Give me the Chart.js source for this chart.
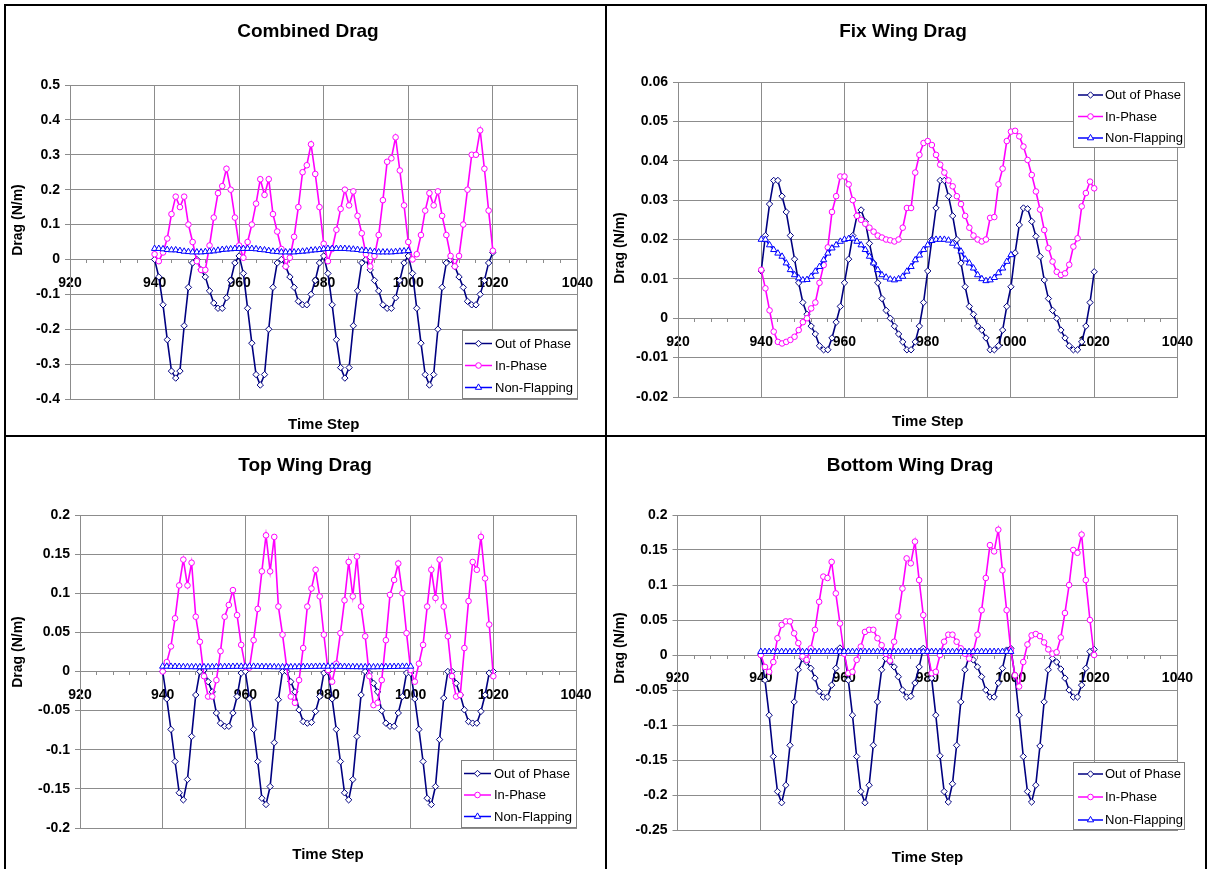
<!DOCTYPE html>
<html><head><meta charset="utf-8">
<script src="https://cdn.jsdelivr.net/npm/chart.js@4.4.1/dist/chart.umd.min.js"></script>
<style>
html,body{margin:0;padding:0;background:#fff;}
#page{position:relative;width:1209px;height:869px;overflow:hidden;background:#fff;}
.ln{position:absolute;background:#000;}
.pn{position:absolute;}
canvas{display:block;}
</style></head><body>
<div id="page">
 <div class="pn" style="left:6px;top:6px;"><canvas id="c1" width="599" height="429"></canvas></div>
 <div class="pn" style="left:607px;top:6px;"><canvas id="c2" width="598" height="429"></canvas></div>
 <div class="pn" style="left:6px;top:437px;"><canvas id="c3" width="599" height="432"></canvas></div>
 <div class="pn" style="left:607px;top:437px;"><canvas id="c4" width="598" height="432"></canvas></div>
 <div class="ln" style="left:4px;top:4px;width:1203px;height:2px"></div>
 <div class="ln" style="left:4px;top:4px;width:2px;height:865px"></div>
 <div class="ln" style="left:1205px;top:4px;width:2px;height:865px"></div>
 <div class="ln" style="left:605px;top:4px;width:2px;height:865px"></div>
 <div class="ln" style="left:4px;top:435px;width:1203px;height:2px"></div>
</div>
<script>
// ---------- data ----------
const timeSteps = [940,941,942,943,944,945,946,947,948,949,950,951,952,953,954,955,956,957,958,959,960,961,962,963,964,965,966,967,968,969,970,971,972,973,974,975,976,977,978,979,980,981,982,983,984,985,986,987,988,989,990,991,992,993,994,995,996,997,998,999,1000,1001,1002,1003,1004,1005,1006,1007,1008,1009,1010,1011,1012,1013,1014,1015,1016,1017,1018,1019,1020];
const xTickLabels = [920,940,960,980,1000,1020,1040];
const seriesNames = ['Out of Phase','In-Phase','Non-Flapping'];

// Combined Drag
const combinedOutOfPhase = [0.0,-0.05,-0.13,-0.23,-0.32,-0.34,-0.32,-0.19,-0.08,-0.01,
 0.0,-0.03,-0.05,-0.09,-0.125,-0.14,-0.14,-0.11,-0.06,-0.01,
 0.01,-0.04,-0.14,-0.24,-0.33,-0.36,-0.33,-0.2,-0.08,-0.01,
 0.0,-0.02,-0.05,-0.08,-0.12,-0.13,-0.13,-0.1,-0.06,-0.01,
 0.01,-0.04,-0.13,-0.23,-0.31,-0.34,-0.31,-0.19,-0.09,-0.01,
 0.0,-0.03,-0.06,-0.09,-0.13,-0.14,-0.14,-0.11,-0.06,-0.01,
 0.01,-0.04,-0.14,-0.24,-0.33,-0.36,-0.33,-0.2,-0.08,-0.01,
 0.0,-0.02,-0.05,-0.08,-0.12,-0.13,-0.13,-0.1,-0.06,-0.01,
 0.02];
const combinedInPhase = [0.015,-0.005,0.02,0.06,0.13,0.18,0.15,0.18,0.1,0.05,
 -0.005,-0.03,-0.03,0.04,0.12,0.19,0.21,0.26,0.2,0.12,
 0.04,0.005,0.05,0.1,0.16,0.23,0.185,0.23,0.13,0.08,
 0.03,-0.02,0.005,0.065,0.15,0.25,0.27,0.33,0.245,0.15,
 0.045,-0.005,0.03,0.085,0.145,0.2,0.155,0.195,0.125,0.075,
 0.015,-0.02,0.01,0.07,0.17,0.28,0.29,0.35,0.255,0.155,
 0.05,0.0,0.015,0.07,0.14,0.19,0.155,0.195,0.125,0.07,
 0.01,-0.02,0.01,0.1,0.2,0.3,0.3,0.37,0.26,0.14,
 0.025];
const combinedNonFlapping = [0.031,0.031,0.03,0.028,0.027,0.027,0.025,0.023,0.022,0.021,
 0.021,0.021,0.022,0.023,0.024,0.026,0.028,0.029,0.03,0.031,
 0.031,0.031,0.031,0.031,0.03,0.028,0.027,0.025,0.023,0.022,
 0.021,0.021,0.021,0.021,0.022,0.023,0.024,0.026,0.027,0.028,
 0.03,0.031,0.031,0.031,0.031,0.031,0.03,0.029,0.028,0.026,
 0.025,0.024,0.022,0.021,0.021,0.021,0.021,0.022,0.023,0.024,
 0.025];

// Fix Wing Drag
const fixOutOfPhase = [0.012,0.021,0.029,0.035,0.035,0.031,0.027,0.021,0.015,0.009,
 0.004,0.001,-0.002,-0.004,-0.007,-0.008,-0.008,-0.005,-0.001,0.003,
 0.009,0.015,0.021,0.026,0.0275,0.0245,0.019,0.014,0.009,0.005,
 0.002,0.0,-0.002,-0.004,-0.006,-0.008,-0.008,-0.006,-0.002,0.004,
 0.012,0.02,0.028,0.035,0.035,0.031,0.026,0.02,0.014,0.008,
 0.003,0.001,-0.002,-0.003,-0.005,-0.008,-0.008,-0.007,-0.003,0.003,
 0.008,0.0166,0.0237,0.028,0.0278,0.0246,0.0208,0.0157,0.0097,0.005,
 0.002,0.0,-0.003,-0.005,-0.007,-0.008,-0.008,-0.006,-0.002,0.004,
 0.0118];
const fixInPhase = [0.0123,0.0076,0.002,-0.0034,-0.006,-0.0064,-0.006,-0.0055,-0.0047,-0.003,
 -0.001,0.0,0.0025,0.004,0.009,0.0135,0.018,0.027,0.031,0.036,
 0.036,0.034,0.03,0.026,0.025,0.024,0.023,0.022,0.021,0.0205,
 0.02,0.0198,0.0195,0.02,0.023,0.028,0.028,0.037,0.0415,0.0445,
 0.045,0.044,0.0415,0.039,0.037,0.035,0.0335,0.031,0.029,0.026,
 0.023,0.021,0.02,0.0195,0.02,0.0255,0.0257,0.034,0.038,0.045,
 0.0474,0.0476,0.0462,0.0436,0.0402,0.0364,0.0322,0.0276,0.0224,0.0178,
 0.0144,0.0118,0.011,0.0114,0.0136,0.0182,0.0203,0.0284,0.0318,0.0347,
 0.033];
const fixNonFlapping = [0.02,0.02,0.0186,0.0174,0.0165,0.0157,0.014,0.0123,0.011,0.0102,
 0.0097,0.0098,0.0106,0.0119,0.0131,0.0148,0.0165,0.0178,0.0186,0.0195,
 0.02,0.0202,0.0203,0.0195,0.0186,0.0174,0.0157,0.014,0.0123,0.011,
 0.0104,0.0099,0.0097,0.01,0.0106,0.0119,0.0131,0.0148,0.016,0.0174,
 0.0186,0.0197,0.02,0.02,0.02,0.0198,0.019,0.0183,0.017,0.015,
 0.014,0.0127,0.011,0.01,0.0095,0.0097,0.0103,0.0115,0.0127,0.0144,
 0.0161];

// Top Wing Drag
const topOutOfPhase = [0.0,-0.035,-0.074,-0.115,-0.155,-0.164,-0.138,-0.083,-0.03,0.0,
 0.002,-0.013,-0.026,-0.053,-0.066,-0.07,-0.07,-0.053,-0.032,-0.002,
 0.0,-0.035,-0.074,-0.115,-0.162,-0.17,-0.147,-0.091,-0.036,0.0,
 0.0,-0.013,-0.026,-0.049,-0.064,-0.066,-0.065,-0.051,-0.032,-0.002,
 0.0,-0.035,-0.074,-0.115,-0.155,-0.164,-0.138,-0.083,-0.03,0.0,
 -0.002,-0.015,-0.026,-0.05,-0.066,-0.07,-0.07,-0.053,-0.032,-0.002,
 -0.002,-0.035,-0.074,-0.115,-0.162,-0.17,-0.147,-0.087,-0.034,0.0,
 0.0,-0.015,-0.03,-0.049,-0.064,-0.066,-0.066,-0.051,-0.03,-0.002,
 0.0];
const topInPhase = [0.0,0.012,0.032,0.068,0.11,0.143,0.11,0.139,0.07,0.038,
 -0.006,-0.032,-0.032,-0.011,0.026,0.07,0.085,0.104,0.072,0.034,
 0.006,0.005,0.04,0.08,0.128,0.174,0.128,0.172,0.083,0.047,
 0.006,-0.032,-0.04,-0.011,0.03,0.083,0.106,0.13,0.096,0.047,
 0.002,-0.013,0.01,0.049,0.091,0.14,0.096,0.147,0.083,0.045,
 -0.006,-0.043,-0.04,-0.011,0.04,0.098,0.117,0.138,0.1,0.049,
 0.002,-0.013,0.01,0.034,0.083,0.13,0.094,0.143,0.083,0.045,
 -0.006,-0.032,-0.03,0.03,0.09,0.14,0.13,0.172,0.119,0.06,
 -0.006];
const topNonFlapping = [0.0065,0.0065,0.0064,0.0063,0.0062,0.006,0.006,0.0059,0.0058,0.0058,
 0.0058,0.0058,0.0059,0.006,0.006,0.0061,0.0062,0.0063,0.0064,0.0064,
 0.0065,0.0065,0.0064,0.0063,0.0062,0.006,0.006,0.0059,0.0058,0.0058,
 0.0058,0.0058,0.0059,0.006,0.006,0.0061,0.0062,0.0063,0.0064,0.0064,
 0.0065,0.0065,0.0064,0.0063,0.0062,0.006,0.006,0.0059,0.0058,0.0058,
 0.0058,0.0058,0.0059,0.006,0.006,0.0061,0.0062,0.0063,0.0064,0.0064,
 0.0065];

// Bottom Wing Drag
const bottomOutOfPhase = [0.0,-0.036,-0.086,-0.145,-0.195,-0.211,-0.186,-0.129,-0.067,-0.021,
 -0.005,-0.01,-0.019,-0.033,-0.052,-0.06,-0.06,-0.043,-0.019,0.01,
 0.005,-0.036,-0.086,-0.145,-0.195,-0.211,-0.186,-0.129,-0.067,-0.021,
 -0.005,-0.01,-0.017,-0.031,-0.05,-0.06,-0.059,-0.04,-0.017,0.0095,
 0.005,-0.033,-0.086,-0.144,-0.195,-0.21,-0.184,-0.129,-0.067,-0.021,
 -0.002,-0.007,-0.017,-0.031,-0.05,-0.06,-0.06,-0.04,-0.019,0.007,
 0.0095,-0.03,-0.086,-0.145,-0.195,-0.21,-0.186,-0.13,-0.067,-0.021,
 -0.005,-0.01,-0.02,-0.033,-0.05,-0.06,-0.06,-0.043,-0.019,0.005,
 0.008];
const bottomInPhase = [0.0,-0.017,-0.024,-0.01,0.024,0.043,0.048,0.048,0.031,0.017,
 -0.002,-0.007,0.0095,0.036,0.076,0.112,0.11,0.133,0.088,0.045,
 0.002,-0.026,-0.024,-0.007,0.012,0.033,0.036,0.036,0.024,0.014,
 0.002,-0.008,0.019,0.055,0.095,0.138,0.131,0.162,0.107,0.057,
 0.005,-0.026,-0.024,0.0,0.019,0.029,0.029,0.019,0.0095,0.002,
 -0.005,0.005,0.029,0.064,0.11,0.157,0.148,0.179,0.121,0.064,
 0.007,-0.029,-0.045,-0.01,0.015,0.028,0.03,0.027,0.018,0.008,
 0.002,0.004,0.025,0.06,0.1,0.15,0.146,0.172,0.107,0.05,
 0.0];
const bottomNonFlapping = [0.0048,0.0048,0.0048,0.0047,0.0047,0.0047,0.0047,0.0047,0.0047,0.0047,
 0.0047,0.0047,0.0047,0.0047,0.0047,0.0047,0.0048,0.0048,0.0048,0.0048,
 0.0048,0.0048,0.0048,0.0047,0.0047,0.0047,0.0047,0.0047,0.0047,0.0047,
 0.0047,0.0047,0.0047,0.0047,0.0047,0.0047,0.0048,0.0048,0.0048,0.0048,
 0.0048,0.0048,0.0048,0.0047,0.0047,0.0047,0.0047,0.0047,0.0047,0.0047,
 0.0047,0.0047,0.0047,0.0047,0.0047,0.0047,0.0048,0.0048,0.0048,0.0048,
 0.0048];

const yTicksCombined = [-0.4,-0.3,-0.2,-0.1,0,0.1,0.2,0.3,0.4,0.5];
const yTicksFix = [-0.02,-0.01,0,0.01,0.02,0.03,0.04,0.05,0.06];
const yTicksTop = [-0.2,-0.15,-0.1,-0.05,0,0.05,0.1,0.15,0.2];
const yTicksBottom = [-0.25,-0.2,-0.15,-0.1,-0.05,0,0.05,0.1,0.15,0.2];

// ---------- styling ----------
const FONT = "'Liberation Sans', Arial, Helvetica, sans-serif";
const GRID = '#8c8c8c';
const COL_OP = '#000080', COL_IP = '#ff00ff', COL_NF = '#0000ff';

function pts(values){ return values.map((v,i)=>({x: timeSteps[i], y: v})); }

function drawMarker(ctx, style, x, y, r){
  ctx.beginPath();
  if (style === 'rectRot'){ ctx.moveTo(x, y-r); ctx.lineTo(x+r, y); ctx.lineTo(x, y+r); ctx.lineTo(x-r, y); ctx.closePath(); }
  else if (style === 'triangle'){ ctx.moveTo(x, y-r); ctx.lineTo(x+r*0.87, y+r*0.5); ctx.lineTo(x-r*0.87, y+r*0.5); ctx.closePath(); }
  else { ctx.arc(x, y, r, 0, Math.PI*2); }
  ctx.fill(); ctx.stroke();
}

// draws chart title, rotated y-axis title, and the boxed legend
const decor = {
  id: 'decor',
  afterDraw(chart, args, o){
    const ctx = chart.ctx, b = o.box;
    ctx.save();
    ctx.fillStyle = '#000'; ctx.textAlign = 'center'; ctx.textBaseline = 'middle';
    ctx.font = 'bold 19px ' + FONT;
    ctx.fillText(o.title, o.titleX, o.titleY);
    ctx.save();
    ctx.translate(o.yTitleX, o.yTitleY); ctx.rotate(-Math.PI/2);
    ctx.font = 'bold 14px ' + FONT;
    ctx.fillText('Drag (N/m)', 0, 0);
    ctx.restore();

    ctx.fillStyle = '#fff'; ctx.fillRect(b.x, b.y, b.w, b.h);
    ctx.strokeStyle = '#808080'; ctx.lineWidth = 1; ctx.strokeRect(b.x+0.5, b.y+0.5, b.w-1, b.h-1);
    chart.data.datasets.forEach((ds, i) => {
      const y = b.y + o.rows[i];
      ctx.strokeStyle = ds.borderColor; ctx.lineWidth = 1.5;
      ctx.beginPath(); ctx.moveTo(b.x + o.line[0], y); ctx.lineTo(b.x + o.line[1], y); ctx.stroke();
      ctx.fillStyle = '#fff'; ctx.lineWidth = 1;
      drawMarker(ctx, ds.pointStyle, b.x + (o.line[0]+o.line[1])/2, y, ds.pointRadius);
      ctx.fillStyle = '#000'; ctx.font = '13px ' + FONT; ctx.textBaseline = 'middle'; ctx.textAlign = 'left';
      ctx.fillText(ds.label, b.x + o.text, y + 0.5);
    });
    ctx.restore();
  }
};

function makeChart(id, s){
  const xTitleLH = 15*1.2;
  const ds = (label, vals, color, style, r, order) => ({
    label, data: pts(vals), borderColor: color, backgroundColor: color, borderWidth: 1.6,
    pointStyle: style, pointRadius: r, pointBackgroundColor: '#fff', pointBorderColor: color,
    pointBorderWidth: 1, tension: 0, xAxisID: 'x', yAxisID: 'y', order
  });
  new Chart(document.getElementById(id), {
    type: 'line',
    data: { datasets: [
      ds(seriesNames[0], s.op, COL_OP, 'rectRot', 3.2, 2),
      ds(seriesNames[1], s.ip, COL_IP, 'circle', 2.8, 1),
      ds(seriesNames[2], s.nf, COL_NF, 'triangle', 3.6, 0)
    ]},
    options: {
      responsive: false, animation: false, devicePixelRatio: 1,
      layout: { padding: { left: 0, top: s.area.T, bottom: 0, right: s.W - s.area.R } },
      plugins: {
        legend: { display: false }, tooltip: { enabled: false }, title: { display: false },
        decor: s.decor
      },
      scales: {
        x: { type: 'linear', position: 'bottom', min: 920, max: 1040,
          afterBuildTicks: sc => { sc.ticks = xTickLabels.map(v => ({value: v})); },
          afterFit: sc => { sc.height = s.H - s.area.B; },
          grid: { color: GRID, drawTicks: false, lineWidth: 1 },
          border: { color: GRID },
          ticks: { display: false },
          title: { display: true, text: 'Time Step', color: '#000',
            font: { family: FONT, size: 15, weight: 'bold' },
            padding: { top: 0, bottom: s.H - s.xTitleY - xTitleLH/2 } } },
        xz: { type: 'linear', axis: 'x', position: { y: 0 }, min: 920, max: 1040,
          afterBuildTicks: sc => { const t = []; for (let v = 920; v <= 1040; v += 4) t.push({value: v}); sc.ticks = t; },
          grid: { display: true, drawOnChartArea: false, drawTicks: true, tickLength: 3, color: GRID },
          border: { display: true, color: GRID },
          ticks: { autoSkip: false, maxRotation: 0, padding: 12, color: '#000',
            font: { family: FONT, size: 14, weight: 'bold' },
            callback: v => xTickLabels.includes(v) ? String(v) : '' } },
        y: { type: 'linear', min: s.yTicks[0], max: s.yTicks[s.yTicks.length-1],
          afterBuildTicks: sc => { sc.ticks = s.yTicks.map(v => ({value: v})); },
          afterFit: sc => { sc.width = s.area.L; },
          grid: { color: GRID, tickLength: 5, lineWidth: 1 },
          border: { color: GRID },
          ticks: { padding: 5, color: '#000', font: { family: FONT, size: 14, weight: 'bold' },
            callback: v => String(v) },
          title: { display: false } }
      }
    },
    plugins: [decor]
  });
}

makeChart('c1', { W: 599, H: 429, area: {L: 64, R: 574, T: 79, B: 393},
  xTitleY: 419, yTicks: yTicksCombined,
  op: combinedOutOfPhase, ip: combinedInPhase, nf: combinedNonFlapping,
  decor: { title: 'Combined Drag', titleX: 302, titleY: 26, yTitleX: 12, yTitleY: 214,
    box: {x: 456, y: 324, w: 116, h: 69}, rows: [13.5, 35.5, 57.5], line: [3, 30], text: 33 } });

makeChart('c2', { W: 598, H: 429, area: {L: 71, R: 573, T: 76, B: 391},
  xTitleY: 416, yTicks: yTicksFix,
  op: fixOutOfPhase, ip: fixInPhase, nf: fixNonFlapping,
  decor: { title: 'Fix Wing Drag', titleX: 296, titleY: 26, yTitleX: 13, yTitleY: 242,
    box: {x: 466, y: 76, w: 112, h: 66}, rows: [13, 34.5, 56], line: [5, 30], text: 32 } });

makeChart('c3', { W: 599, H: 432, area: {L: 74, R: 570, T: 78, B: 391},
  xTitleY: 418, yTicks: yTicksTop,
  op: topOutOfPhase, ip: topInPhase, nf: topNonFlapping,
  decor: { title: 'Top Wing Drag', titleX: 299, titleY: 29, yTitleX: 12, yTitleY: 215,
    box: {x: 455, y: 323, w: 116, h: 68}, rows: [13.5, 35, 56.5], line: [3, 30], text: 33 } });

makeChart('c4', { W: 598, H: 432, area: {L: 70.5, R: 575.7, T: 78, B: 393},
  xTitleY: 421, yTicks: yTicksBottom,
  op: bottomOutOfPhase, ip: bottomInPhase, nf: bottomNonFlapping,
  decor: { title: 'Bottom Wing Drag', titleX: 303, titleY: 29, yTitleX: 13, yTitleY: 211,
    box: {x: 466, y: 325, w: 112, h: 68}, rows: [12, 35, 58], line: [5, 30], text: 32 } });
</script>
</body></html>
